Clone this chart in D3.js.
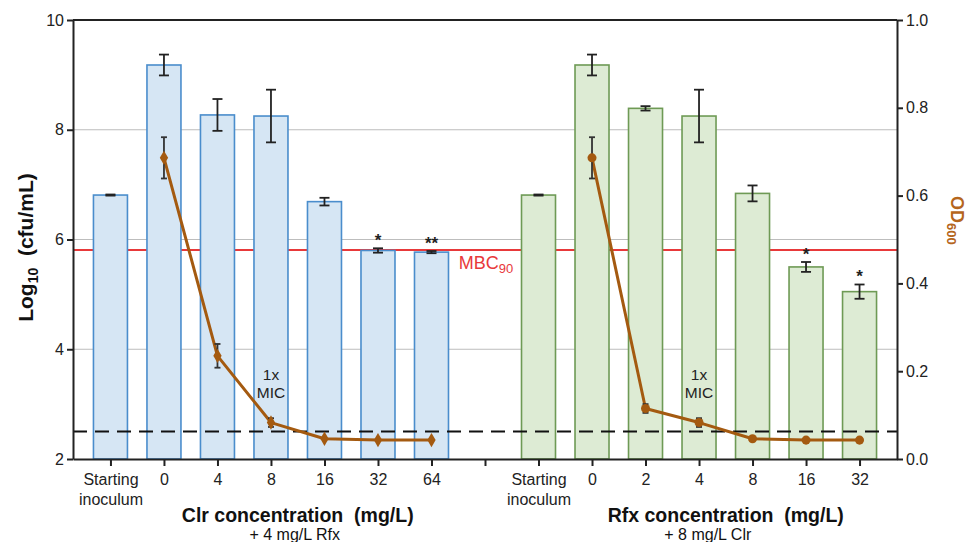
<!DOCTYPE html>
<html>
<head>
<meta charset="utf-8">
<script src="https://cdn.jsdelivr.net/npm/d3@7"></script>
<style>
	body { margin: 0; background: #fff; }
	svg { display: block; font-family: "Liberation Sans", Arial, sans-serif; }
	text { white-space: pre; }
</style>
</head>
<body>
<svg id="chart" width="967" height="542"></svg>
<script>
// values
const clrDoses = ["Starting\ninoculum", "0", "4", "8", "16", "32", "64"];
const clrCfu = [6.81, 9.18, 8.27, 8.25, 6.69, 5.80, 5.77];
const clrCfuErr = [0.01, 0.19, 0.29, 0.48, 0.07, 0.04, 0.02];
const clrOd = [null, 0.686, 0.235, 0.083, 0.046, 0.043, 0.043];
const clrOdErr = [null, 0.047, 0.027, 0.010, 0.003, 0.002, 0.002];
const clrStars = ["", "", "", "", "", "*", "**"];

const rfxDoses = ["Starting\ninoculum", "0", "2", "4", "8", "16", "32"];
const rfxCfu = [6.81, 9.18, 8.39, 8.25, 6.84, 5.50, 5.05];
const rfxCfuErr = [0.01, 0.19, 0.04, 0.48, 0.145, 0.09, 0.13];
const rfxOd = [null, 0.686, 0.115, 0.083, 0.046, 0.043, 0.043];
const rfxOdErr = [null, 0.047, 0.010, 0.010, 0.003, 0.002, 0.002];
const rfxStars = ["", "", "", "", "", "*", "*"];

const mbc90 = 5.81;
const detectionLimit = 2.5;
const leftTicks = [2, 4, 6, 8, 10];
const rightTicks = [0, 0.2, 0.4, 0.6, 0.8, 1.0];

const groups = [
	{ id: "clr", doses: clrDoses, cfu: clrCfu, err: clrCfuErr, od: clrOd, odErr: clrOdErr, stars: clrStars,
		fill: "#d6e6f4", stroke: "#4a8dcc", marker: "diamond", micIndex: 3,
		title: "Clr concentration  (mg/L)", sub: "+ 4 mg/L Rfx", subShift: -3 },
	{ id: "rfx", doses: rfxDoses, cfu: rfxCfu, err: rfxCfuErr, od: rfxOd, odErr: rfxOdErr, stars: rfxStars,
		fill: "#ddebd4", stroke: "#6e9a55", marker: "circle", micIndex: 3,
		title: "Rfx concentration  (mg/L)", sub: "+ 8 mg/L Clr", subShift: -18 },
];

const keys = [
	...clrDoses.map((d, i) => `clr-${i}`),
	"gap",
	...rfxDoses.map((d, i) => `rfx-${i}`),
];
const labelOf = new Map();
groups.forEach((g) => g.doses.forEach((d, i) => labelOf.set(`${g.id}-${i}`, d)));

const W = 967, H = 542;
const margin = { top: 20, right: 70, bottom: 83, left: 73 };
const x0 = margin.left, x1 = W - margin.right;
const yTop = margin.top, yBot = H - margin.bottom;

const x = d3.scalePoint().domain(keys).range([x0, x1]).padding(0.7);
const y = d3.scaleLinear().domain([2, 10]).range([yBot, yTop]);
const yOd = d3.scaleLinear().domain([0, 1]).range([yBot, yTop]);
const barW = 34;

const brown = "#a45a10";
const ink = "#222";

const svg = d3.select("#chart");

// gridlines
svg.append("g")
	.selectAll("line")
	.data([4, 6, 8])
	.join("line")
	.attr("x1", x0).attr("x2", x1)
	.attr("y1", (d) => y(d)).attr("y2", (d) => y(d))
	.attr("stroke", "#bdbdbd").attr("stroke-width", 1);

// MBC90 line sits behind the bars
svg.append("line")
	.attr("x1", x0).attr("x2", x1)
	.attr("y1", y(mbc90)).attr("y2", y(mbc90))
	.attr("stroke", "#e8393a").attr("stroke-width", 2);

const mbcLabel = svg.append("text")
	.attr("x", x("gap") + 1).attr("y", y(mbc90) + 19)
	.attr("text-anchor", "middle")
	.attr("fill", "#e8393a").attr("font-size", 18);
mbcLabel.append("tspan").text("MBC");
mbcLabel.append("tspan").attr("font-size", 13).attr("dy", 4).text("90");

groups.forEach((g) => {
	const rows = g.cfu.map((v, i) => ({
		key: `${g.id}-${i}`, v, e: g.err[i], od: g.od[i], odE: g.odErr[i], star: g.stars[i],
	}));

	svg.append("g")
		.selectAll("rect")
		.data(rows)
		.join("rect")
		.attr("x", (d) => x(d.key) - barW / 2)
		.attr("width", barW)
		.attr("y", (d) => y(d.v))
		.attr("height", (d) => yBot - y(d.v))
		.attr("fill", g.fill)
		.attr("stroke", g.stroke)
		.attr("stroke-width", 1.6);

	// bar error bars
	const eb = svg.append("g").attr("stroke", ink).attr("stroke-width", 1.8);
	rows.forEach((d) => {
		const cx = x(d.key);
		const ya = y(d.v + d.e), yb = y(d.v - d.e);
		eb.append("line").attr("x1", cx).attr("x2", cx).attr("y1", ya).attr("y2", yb);
		eb.append("line").attr("x1", cx - 5).attr("x2", cx + 5).attr("y1", ya).attr("y2", ya);
		eb.append("line").attr("x1", cx - 5).attr("x2", cx + 5).attr("y1", yb).attr("y2", yb);
	});

	svg.append("g")
		.selectAll("text")
		.data(rows.filter((d) => d.star))
		.join("text")
		.attr("x", (d) => x(d.key))
		.attr("y", (d) => y(d.v + d.e) - 2)
		.attr("text-anchor", "middle")
		.attr("font-size", 17).attr("font-weight", "bold")
		.attr("fill", ink)
		.text((d) => d.star);
	g.rows = rows;
});

// limit of detection
svg.append("line")
	.attr("x1", x0).attr("x2", x1)
	.attr("y1", y(detectionLimit)).attr("y2", y(detectionLimit))
	.attr("stroke", "#111").attr("stroke-width", 2)
	.attr("stroke-dasharray", "14,8");

// 1x MIC notes
groups.forEach((g) => {
	const cx = x(`${g.id}-${g.micIndex}`);
	const t = svg.append("text")
		.attr("text-anchor", "middle")
		.attr("font-size", 15.5).attr("fill", ink);
	t.append("tspan").attr("x", cx).attr("y", 380).text("1x");
	t.append("tspan").attr("x", cx).attr("y", 398).text("MIC");
});

// OD600 curves
const odLine = d3.line()
	.defined((d) => d.od != null)
	.x((d) => x(d.key))
	.y((d) => yOd(d.od));

groups.forEach((g) => {
	const pts = g.rows.filter((d) => d.od != null);
	svg.append("path")
		.datum(g.rows)
		.attr("d", odLine)
		.attr("fill", "none")
		.attr("stroke", brown)
		.attr("stroke-width", 3)
		.attr("stroke-linejoin", "round");

	const oe = svg.append("g").attr("stroke", "#333").attr("stroke-width", 1.8);
	pts.forEach((d) => {
		if (d.odE < 0.005) return;
		const cx = x(d.key);
		const ya = yOd(d.od + d.odE), yb = yOd(d.od - d.odE);
		oe.append("line").attr("x1", cx).attr("x2", cx).attr("y1", ya).attr("y2", yb);
		oe.append("line").attr("x1", cx - 3).attr("x2", cx + 3).attr("y1", ya).attr("y2", ya);
		oe.append("line").attr("x1", cx - 3).attr("x2", cx + 3).attr("y1", yb).attr("y2", yb);
	});

	const sym = g.marker === "diamond" ? d3.symbolDiamond : d3.symbolCircle;
	svg.append("g")
		.selectAll("path")
		.data(pts)
		.join("path")
		.attr("transform", (d) => `translate(${x(d.key)},${yOd(d.od)})`)
		.attr("d", d3.symbol().type(sym).size(g.marker === "diamond" ? 60 : 64))
		.attr("fill", brown);
});

// axes
function styleAxis(sel) {
	sel.select(".domain").attr("stroke", ink).attr("stroke-width", 2);
	sel.selectAll(".tick line").attr("stroke", ink).attr("stroke-width", 2);
	sel.selectAll(".tick text").attr("fill", ink).attr("font-size", 16)
		.attr("font-family", "Liberation Sans, Arial, sans-serif");
}

svg.append("line")
	.attr("x1", x0).attr("x2", x1).attr("y1", yTop).attr("y2", yTop)
	.attr("stroke", ink).attr("stroke-width", 2);

svg.append("g")
	.attr("transform", `translate(${x0},0)`)
	.call(d3.axisLeft(y).tickValues(leftTicks).tickSize(6).tickSizeOuter(0).tickPadding(3))
	.call(styleAxis);

svg.append("g")
	.attr("transform", `translate(${x1},0)`)
	.call(d3.axisRight(yOd).tickValues(rightTicks).tickFormat(d3.format(".1f"))
		.tickSize(6).tickSizeOuter(0).tickPadding(3))
	.call(styleAxis);

const xAxis = svg.append("g")
	.attr("transform", `translate(0,${yBot})`)
	.call(d3.axisBottom(x).tickSize(7).tickSizeOuter(0).tickPadding(8)
		.tickFormat((k) => labelOf.get(k) || ""))
	.call(styleAxis);

xAxis.selectAll(".tick text").each(function (k) {
	const lines = (labelOf.get(k) || "").split("\n");
	const t = d3.select(this).text(null);
	lines.forEach((ln, i) => {
		t.append("tspan").attr("x", 0).attr("dy", i === 0 ? "0.71em" : "1.2em").text(ln);
	});
});

// group titles
groups.forEach((g) => {
	const cx = (x(`${g.id}-1`) + x(`${g.id}-${g.doses.length - 1}`)) / 2;
	svg.append("text")
		.attr("x", cx).attr("y", 522)
		.attr("text-anchor", "middle")
		.attr("font-size", 19.5).attr("font-weight", "bold").attr("fill", "#111")
		.text(g.title);
	svg.append("text")
		.attr("x", cx + g.subShift).attr("y", 540)
		.attr("text-anchor", "middle")
		.attr("font-size", 16).attr("fill", "#111")
		.text(g.sub);
});

// y titles
const yl = svg.append("text")
	.attr("transform", `translate(33,${(yTop + yBot) / 2 + 8}) rotate(-90)`)
	.attr("text-anchor", "middle")
	.attr("font-size", 21).attr("font-weight", "bold").attr("fill", "#111");
yl.append("tspan").text("Log");
yl.append("tspan").attr("font-size", 14).attr("dy", 5).text("10");
yl.append("tspan").attr("dy", -5).text("  (cfu/mL)");

const yr = svg.append("text")
	.attr("transform", `translate(951,196) rotate(90)`)
	.attr("text-anchor", "start")
	.attr("font-size", 18).attr("font-weight", "bold").attr("fill", "#b5661c");
yr.append("tspan").text("OD");
yr.append("tspan").attr("font-size", 13).attr("dy", 4).text("600");
</script>
</body>
</html>
